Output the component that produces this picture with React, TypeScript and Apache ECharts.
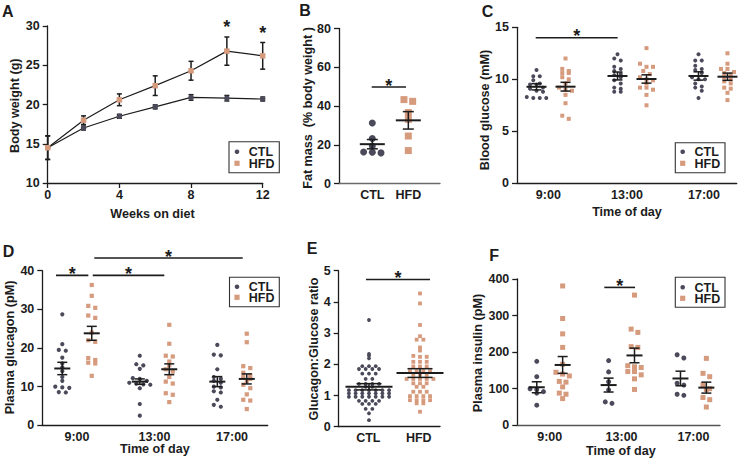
import React, { useEffect, useRef } from "react";
import * as echarts from "echarts";

// ---------------- colours / fonts ----------------
const CTL_COLOR = "#4a4a5a";
const HFD_COLOR = "#d69a7d";
const INK = "#1c1c1c";
const FONT = "Liberation Sans, Arial, sans-serif";

// ---------------- Panel A: body weight ----------------
const weeks = [0, 2, 4, 6, 8, 10, 12];
const weekTicks = [0, 4, 8, 12];
const bwCTL = [14.5, 17.0, 18.5, 19.7, 20.9, 20.8, 20.7];
const bwCTLsem = [1.5, 0.25, 0.25, 0.25, 0.35, 0.35, 0.25];
const bwHFD = [14.5, 18.0, 20.6, 22.4, 24.3, 26.8, 26.2];
const bwHFDsem = [1.5, 0.55, 0.75, 1.25, 1.2, 1.8, 1.7];
const bwStarWeeks = [10, 12];

// ---------------- Panel B: fat mass ----------------
const groups = ["CTL", "HFD"];
const fatCTL = [31.2, 23.2, 19.4, 16.3, 16.1, 15.8];
const fatHFD = [43.3, 42.4, 36.6, 33.1, 24.5, 17.0];
const fatMean = [20.3, 32.6];
const fatSem = [2.4, 4.5];

// ---------------- Panel C: blood glucose ----------------
const times = ["9:00", "13:00", "17:00"];
const glucoseCTL = [
  [10.9, 10.3, 10.3, 9.9, 9.6, 9.5, 9.5, 9.2, 9.1, 8.9, 8.8, 8.3, 8.2, 8.2, 8.2],
  [12.4, 12.0, 11.8, 11.2, 11.0, 10.8, 10.5, 10.4, 10.2, 9.9, 9.6, 9.2, 9.1, 8.8, 8.8],
  [12.4, 11.8, 11.8, 11.3, 11.0, 10.9, 10.6, 10.2, 10.0, 10.0, 9.6, 9.3, 9.2, 8.9, 8.2],
];
const glucoseHFD = [
  [12.0, 11.0, 10.8, 10.6, 10.6, 10.2, 10.0, 9.6, 9.2, 9.0, 8.9, 8.5, 7.7, 6.5, 6.2],
  [13.0, 11.5, 11.2, 11.2, 10.8, 10.5, 10.2, 10.0, 9.9, 9.6, 9.2, 9.2, 9.0, 8.5, 7.5],
  [12.5, 11.5, 11.0, 11.0, 10.7, 10.6, 10.4, 10.2, 10.0, 9.8, 9.6, 9.2, 9.1, 8.7, 8.0],
];
const glucoseMeanCTL = [9.28, 10.32, 10.32];
const glucoseSemCTL = [0.3, 0.38, 0.4];
const glucoseMeanHFD = [9.29, 10.03, 10.25];
const glucoseSemHFD = [0.42, 0.4, 0.35];

// ---------------- Panel D: plasma glucagon ----------------
const glucagonCTL = [
  [28.7, 21.0, 19.5, 19.3, 17.5, 16.0, 15.0, 14.0, 12.5, 11.5, 10.0, 9.8, 9.7, 8.6, 8.5],
  [18.0, 15.8, 15.5, 14.6, 12.2, 12.0, 11.5, 11.0, 10.8, 10.6, 10.5, 9.6, 5.5, 2.5],
  [20.8, 18.3, 18.1, 14.5, 12.5, 12.0, 11.5, 11.0, 10.0, 9.8, 8.8, 8.5, 6.6, 5.3, 4.8],
];
const glucagonHFD = [
  [36.3, 33.5, 30.9, 30.4, 28.4, 27.8, 24.0, 22.0, 21.6, 17.4, 16.9, 16.2, 16.0, 12.8],
  [26.0, 21.1, 18.0, 17.8, 16.5, 15.5, 14.5, 13.9, 12.5, 11.3, 10.8, 8.3, 7.9, 6.0],
  [23.7, 21.5, 15.3, 14.8, 13.6, 13.0, 12.5, 12.0, 11.5, 10.5, 9.6, 8.0, 6.6, 6.4, 4.2],
];
const glucagonMeanCTL = [14.7, 11.3, 11.3];
const glucagonSemCTL = [1.6, 0.7, 1.3];
const glucagonMeanHFD = [23.8, 14.5, 12.0];
const glucagonSemHFD = [1.8, 1.4, 1.3];

// ---------------- Panel E: glucagon:glucose ratio ----------------
const ratioCTL = [
  3.42, 2.33, 2.28, 2.19, 1.94, 1.94, 1.94, 1.85, 1.85, 1.85, 1.85, 1.7, 1.7, 1.7,
  1.53, 1.53, 1.37, 1.37, 1.37, 1.37, 1.28, 1.28,
  1.17, 1.17, 1.17, 1.17, 1.17, 1.17, 1.17,
  1.07, 1.07, 1.07, 1.07, 1.07, 1.07, 1.07,
  0.96, 0.96, 0.96, 0.96, 0.96, 0.96, 0.96,
  0.83, 0.83, 0.83, 0.83, 0.73, 0.73, 0.73, 0.57, 0.57, 0.43, 0.21,
];
const ratioHFD = [
  4.27, 3.95, 3.26, 2.9, 2.79, 2.79, 2.54, 2.44, 2.27, 2.24, 2.24,
  2.08, 2.08, 2.08, 1.93, 1.93, 1.93, 1.78, 1.78, 1.78, 1.78, 1.66, 1.66, 1.66,
  1.53, 1.53, 1.53, 1.53, 1.53, 1.39, 1.39, 1.39, 1.28, 1.28,
  1.12, 1.12, 1.12, 0.98, 0.98, 0.98, 0.98, 0.85, 0.85, 0.85, 0.85, 0.75, 0.75, 0.48,
];
const ratioMean = [1.28, 1.72];
const ratioSem = [0.1, 0.14];

// ---------------- Panel F: plasma insulin ----------------
const insulinCTL = [
  [175, 133, 100, 98, 92, 88, 55],
  [177, 146, 119, 97, 64, 60],
  [193, 184, 115, 110, 85, 82],
];
const insulinHFD = [
  [381, 292, 250, 213, 167, 145, 140, 135, 120, 118, 105, 88, 85, 73],
  [356, 263, 254, 215, 213, 163, 160, 158, 147, 147, 138, 127, 98],
  [183, 142, 133, 110, 100, 98, 76, 70, 50],
];
const insulinMeanCTL = [104, 110, 128];
const insulinSemCTL = [15, 19, 20];
const insulinMeanHFD = [165, 191, 103];
const insulinSemHFD = [23, 20, 15];

// significance bars: [x start, y level, x end] in each panel's axis units
const sigB = [[-0.017, 49.8, 0.936]];
const sigC = [[-0.189, 14.0, 0.823]];
const sigD = [
  [-0.271, 38.8, 0.146],
  [0.203, 38.8, 1.126],
  [0.223, 43.3, 2.138],
];
const sigE = [[-0.059, 4.72, 1.196]];
const sigF = [[0.76, 377, 1.188]];

// ---------------- layout ----------------
type Panel = {
  left: number; top: number; width: number; height: number;
  xmin: number; xmax: number; ymin: number; ymax: number; yint: number;
};
const PA: Panel = { left: 47.7, top: 26, width: 215, height: 157, xmin: 0, xmax: 12, ymin: 10, ymax: 30, yint: 5 };
const PB: Panel = { left: 339, top: 28.5, width: 101, height: 155, xmin: -0.925, xmax: 1.88, ymin: 0, ymax: 80, yint: 20 };
const PC: Panel = { left: 517, top: 27.3, width: 219.7, height: 156, xmin: -0.42, xmax: 2.293, ymin: 0, ymax: 15, yint: 5 };
const PD: Panel = { left: 42.3, top: 270.7, width: 225.4, height: 154.6, xmin: -0.448, xmax: 2.46, ymin: 0, ymax: 40, yint: 10 };
const PE: Panel = { left: 338.7, top: 270.7, width: 101.3, height: 156, xmin: -0.594, xmax: 1.392, ymin: 0, ymax: 5, yint: 1 };
const PF: Panel = { left: 517.3, top: 279, width: 202.7, height: 146.3, xmin: -0.451, xmax: 2.37, ymin: 0, ymax: 400, yint: 100 };
const panels = [PA, PB, PC, PD, PE, PF];

function swarm(vals: number[], center: number, p: Panel, step: number, thr: number) {
  const ypx = p.height / (p.ymax - p.ymin);
  const xpx = p.width / (p.xmax - p.xmin);
  const sorted = [...vals].sort((a, b) => b - a);
  const rows: number[][] = [];
  for (const v of sorted) {
    const r = rows[rows.length - 1];
    if (r && (r[0] - v) * ypx <= thr) r.push(v);
    else rows.push([v]);
  }
  const pts: number[][] = [];
  rows.forEach((r) =>
    r.forEach((v, i) => pts.push([center + ((i - (r.length - 1) / 2) * step) / xpx, v]))
  );
  return pts;
}

const labelStyle = { fontFamily: FONT, fontWeight: "bold", fontSize: 12.5, color: INK };
const lineStyle = { color: INK, width: 1.3 };

function yAxisFor(i: number) {
  const p = panels[i];
  return {
    gridIndex: i, type: "value", min: p.ymin, max: p.ymax, interval: p.yint,
    axisLine: { show: true, onZero: false, lineStyle },
    axisTick: { show: true, length: 5, lineStyle },
    axisLabel: { ...labelStyle, margin: 8 },
    splitLine: { show: false },
  };
}

function catXAxis(i: number, labels: string[], pos: number[], color = INK) {
  const p = panels[i];
  return {
    gridIndex: i, type: "value", min: p.xmin, max: p.xmax,
    axisLine: { show: true, onZero: false, lineStyle: { color, width: 1.3 } },
    axisTick: { show: false },
    splitLine: { show: false },
    axisLabel: {
      ...labelStyle, margin: 5,
      customValues: pos,
      formatter: (v: number) => {
        let best = 0;
        pos.forEach((q, k) => { if (Math.abs(q - v) < Math.abs(pos[best] - v)) best = k; });
        return labels[best];
      },
    },
  };
}

function errSeries(i: number, rows: number[][], cap: number, meanW: number, z = 4) {
  return {
    type: "custom", xAxisIndex: i, yAxisIndex: i, silent: true, z, clip: false,
    data: rows,
    renderItem: (_params: any, api: any) => {
      const x = api.value(0), m = api.value(1), s = api.value(2);
      const top = api.coord([x, m + s]);
      const bot = api.coord([x, m - s]);
      const mid = api.coord([x, m]);
      const ls = { stroke: INK, lineWidth: 1.5 };
      const children: any[] = [
        { type: "line", shape: { x1: top[0], y1: top[1], x2: bot[0], y2: bot[1] }, style: ls },
        { type: "line", shape: { x1: top[0] - cap / 2, y1: top[1], x2: top[0] + cap / 2, y2: top[1] }, style: ls },
        { type: "line", shape: { x1: bot[0] - cap / 2, y1: bot[1], x2: bot[0] + cap / 2, y2: bot[1] }, style: ls },
      ];
      if (meanW > 0)
        children.push({
          type: "line",
          shape: { x1: mid[0] - meanW / 2, y1: mid[1], x2: mid[0] + meanW / 2, y2: mid[1] },
          style: { stroke: INK, lineWidth: 2 },
        });
      return { type: "group", children };
    },
  };
}

function starText(x: number, y: number) {
  return {
    type: "text", x, y,
    style: { text: "*", fontFamily: FONT, fontWeight: "bold", fontSize: 18, fill: INK, align: "center", verticalAlign: "middle" },
  };
}

function sigSeries(i: number, rows: number[][]) {
  return {
    type: "custom", xAxisIndex: i, yAxisIndex: i, silent: true, z: 6, clip: false,
    data: rows,
    renderItem: (_params: any, api: any) => {
      const x1 = api.value(0), y = api.value(1), x2 = api.value(2);
      const a = api.coord([x1, y]);
      const b = api.coord([x2, y]);
      return {
        type: "group",
        children: [
          { type: "line", shape: { x1: a[0], y1: a[1], x2: b[0], y2: b[1] }, style: { stroke: INK, lineWidth: 1.6 } },
          starText((a[0] + b[0]) / 2, a[1] - 1.4),
        ],
      };
    },
  };
}

function scatter(i: number, pts: number[][], ctl: boolean, size: number) {
  return {
    type: "scatter", xAxisIndex: i, yAxisIndex: i, silent: true, z: 2,
    symbol: ctl ? "circle" : "rect", symbolSize: size,
    itemStyle: { color: ctl ? CTL_COLOR : HFD_COLOR, opacity: 1 },
    data: pts,
  };
}

function groupedPanel(
  i: number, ctl: number[][], hfd: number[][],
  mC: number[], sC: number[], mH: number[], sH: number[],
  off: number, size: number, step: number, thr: number, meanW: number, cap: number
) {
  const p = panels[i];
  const out: any[] = [];
  ctl.forEach((vals, g) => out.push(scatter(i, swarm(vals, g - off, p, step, thr), true, size)));
  hfd.forEach((vals, g) => out.push(scatter(i, swarm(vals, g + off, p, step, thr), false, size)));
  out.push(errSeries(i, mC.map((m, g) => [g - off, m, sC[g]]), cap, meanW));
  out.push(errSeries(i, mH.map((m, g) => [g + off, m, sH[g]]), cap, meanW));
  return out;
}

function txt(text: string, x: number, y: number, size: number, rotate = false, align = "center", lh?: number) {
  return {
    type: "text", x, y, rotation: rotate ? Math.PI / 2 : 0, silent: true,
    style: {
      text, fontFamily: FONT, fontWeight: "bold", fontSize: size, fill: INK,
      align, verticalAlign: "middle", lineHeight: lh ?? Math.min(size, 12),
    },
  };
}

function legend(left: number, top: number, w: number, h: number, mx: number, cy1: number, cy2: number) {
  return [
    { type: "rect", shape: { x: left, y: top, width: w, height: h }, style: { fill: "#fff", stroke: "#333", lineWidth: 1.1 } },
    { type: "circle", shape: { cx: mx, cy: cy1, r: 2.3 }, style: { fill: CTL_COLOR } },
    { type: "rect", shape: { x: mx - 2.6, y: cy2 - 2.6, width: 5.2, height: 5.2 }, style: { fill: HFD_COLOR } },
    txt("CTL\nHFD", mx + 11.8, (cy1 + cy2) / 2 + 0.4, 12.5, false, "left", cy2 - cy1),
  ];
}

function buildOption() {
  const grid = panels.map((p) => ({
    left: p.left, top: p.top, width: p.width, height: p.height, containLabel: false, outerBoundsMode: "none",
  }));

  const xAxis: any[] = [
    {
      gridIndex: 0, type: "value", min: 0, max: 12, interval: 4,
      axisLine: { show: true, onZero: false, lineStyle },
      axisTick: { show: true, length: 5, lineStyle },
      axisLabel: { ...labelStyle, margin: 5, customValues: weekTicks },
      splitLine: { show: false },
    },
    catXAxis(1, groups, [0, 1], "#6a6a6a"),
    catXAxis(2, times, [-0.033, 0.938, 1.889]),
    catXAxis(3, times, [0, 1, 2]),
    catXAxis(4, groups, [-0.014, 0.976]),
    catXAxis(5, times, [0, 1, 2], "#555"),
  ];
  const yAxis = panels.map((_, i) => yAxisFor(i));

  const series: any[] = [];
  // A
  series.push(errSeries(0, weeks.map((w, k) => [w, bwCTL[k], bwCTLsem[k]]), 5, 0, 1));
  series.push(errSeries(0, weeks.map((w, k) => [w, bwHFD[k], bwHFDsem[k]]), 5, 0, 1));
  series.push({
    type: "line", xAxisIndex: 0, yAxisIndex: 0, z: 2, silent: true,
    data: weeks.map((w, k) => [w, bwCTL[k]]),
    symbol: "circle", symbolSize: 5.5,
    lineStyle: { color: INK, width: 1.2 }, itemStyle: { color: CTL_COLOR },
  });
  series.push({
    type: "line", xAxisIndex: 0, yAxisIndex: 0, z: 3, silent: true,
    data: weeks.map((w, k) => [w, bwHFD[k]]),
    symbol: "rect", symbolSize: 5.5,
    lineStyle: { color: INK, width: 1.2 }, itemStyle: { color: HFD_COLOR },
  });
  series.push({
    type: "custom", xAxisIndex: 0, yAxisIndex: 0, silent: true, z: 6, clip: false,
    data: bwStarWeeks.map((w) => {
      const k = weeks.indexOf(w);
      return [w, bwHFD[k] + bwHFDsem[k]];
    }),
    renderItem: (_p: any, api: any) => {
      const c = api.coord([api.value(0), api.value(1)]);
      return starText(c[0], c[1] - 9.5);
    },
  });

  // B
  series.push(scatter(1, swarm(fatCTL, 0, PB, 8.7, 2), true, 7));
  series.push(scatter(1, swarm(fatHFD, 1, PB, 8.7, 2), false, 7));
  series.push(errSeries(1, fatMean.map((m, g) => [g, m, fatSem[g]]), 11, 25));
  series.push(sigSeries(1, sigB));

  // C
  series.push(...groupedPanel(2, glucoseCTL, glucoseHFD, glucoseMeanCTL, glucoseSemCTL, glucoseMeanHFD, glucoseSemHFD, 0.179, 4, 6.5, 3.5, 20, 10));
  series.push(sigSeries(2, sigC));

  // D
  series.push(...groupedPanel(3, glucagonCTL, glucagonHFD, glucagonMeanCTL, glucagonSemCTL, glucagonMeanHFD, glucagonSemHFD, 0.19, 4.2, 7, 3.5, 16, 10));
  series.push(sigSeries(3, sigD));

  // E
  series.push(scatter(4, swarm(ratioCTL, 0, PE, 6.7, 1), true, 3.8));
  series.push(scatter(4, swarm(ratioHFD, 1, PE, 6.7, 1), false, 3.8));
  series.push(errSeries(4, ratioMean.map((m, g) => [g, m, ratioSem[g]]), 25, 47));
  series.push(sigSeries(4, sigE));

  // F
  series.push(...groupedPanel(5, insulinCTL, insulinHFD, insulinMeanCTL, insulinSemCTL, insulinMeanHFD, insulinSemHFD, 0.18, 5, 6.7, 4, 16, 10));
  series.push(sigSeries(5, sigF));

  const graphic: any[] = [
    txt("A", 2, 11.7, 16, false, "left"),
    txt("B", 299.3, 10.8, 16, false, "left"),
    txt("C", 481.7, 11.7, 16, false, "left"),
    txt("D", 2.7, 251.7, 16, false, "left"),
    txt("E", 306.7, 248.8, 16, false, "left"),
    txt("F", 489.3, 255.5, 16, false, "left"),
    txt("Body weight (g)", 14.5, 105.7, 12.6, true),
    txt("Weeks on diet", 152.5, 213.5, 12.6),
    txt("Fat mass  (% body weight )", 308, 108, 12.6, true),
    txt("Blood glucose (mM)", 485, 110, 12.6, true),
    txt("Time of day", 627, 211.7, 12.6),
    txt("Plasma glucagon (pM)", 9.5, 347.5, 12.6, true),
    txt("Time of day", 154.8, 449, 12.6),
    txt("Glucagon:Glucose ratio", 314, 349, 12.6, true),
    txt("Plasma insulin (pM)", 477.5, 353, 12.6, true),
    txt("Time of day", 620.8, 450.8, 12.6),
    ...legend(229, 141.7, 50.3, 31, 237, 151.7, 163.3),
    ...legend(675.3, 142.7, 49.7, 30, 682.7, 151.7, 163.3),
    ...legend(229.5, 277.3, 49.8, 29.4, 237, 286.7, 297.3),
    ...legend(675.3, 277.3, 49.7, 30, 682.7, 287.3, 298.3),
  ];

  return {
    animation: false,
    backgroundColor: "#ffffff",
    grid, xAxis, yAxis, series, graphic,
  };
}

export default function App() {
  const ref = useRef<HTMLDivElement>(null);
  useEffect(() => {
    const chart = echarts.init(ref.current!, null, { renderer: "svg" });
    chart.setOption(buildOption() as any);
    return () => chart.dispose();
  }, []);
  return (
    <div
      ref={ref}
      style={{ position: "absolute", left: 0, top: 0, width: 743, height: 458 }}
    />
  );
}
